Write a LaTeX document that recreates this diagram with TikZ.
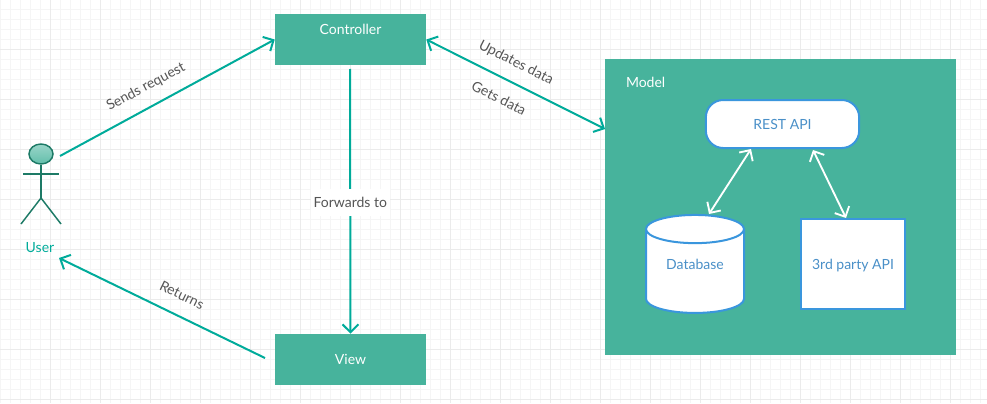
\documentclass[tikz,border=0pt]{standalone}
\usepackage{fontspec}
\setmainfont{Lato}
\usepackage{xcolor}
\usetikzlibrary{shapes.geometric,arrows.meta,positioning}
\definecolor{boxgreen}{RGB}{71,179,156}
\definecolor{arrowteal}{RGB}{0,171,154}
\definecolor{actorgreen}{RGB}{29,122,102}
\definecolor{edgeblue}{RGB}{58,150,221}
\definecolor{textblue}{RGB}{74,144,200}
\definecolor{labelgray}{RGB}{85,85,85}

\begin{document}
\begin{tikzpicture}[
  x=0.75pt, y=-0.75pt,
  font=\fontsize{10.5}{12}\selectfont,
  gridminor/.style={draw=black!4, line width=0.5pt},
  gridmajor/.style={draw=black!8, line width=0.5pt},
  gbox/.style={fill=boxgreen, text=white, minimum width=113.25pt, minimum height=38.25pt, inner sep=0pt},
  wbox/.style={draw=edgeblue, fill=white, text=textblue, line width=1.5pt, inner sep=0pt, align=center},
  arr/.style={-{Straight Barb[length=6pt,width=12pt]}, arrowteal, line width=1.5pt},
  darr/.style={{Straight Barb[length=6pt,width=12pt]}-{Straight Barb[length=6pt,width=12pt]}, arrowteal, line width=1.5pt},
  warr/.style={{Straight Barb[length=6pt,width=12pt]}-{Straight Barb[length=6pt,width=12pt]}, white, line width=1.4pt},
  lbl/.style={text=labelgray, inner sep=1pt},
  limb/.style={draw=actorgreen, line width=1.1pt},
]
% Background grid
\useasboundingbox (0,0) rectangle (987,403);
\foreach \gx in {0,10,...,980} {\draw[gridminor] (\gx,0) -- (\gx,403);}
\foreach \gy in {10,20,...,400} {\draw[gridminor] (0,\gy-0.5) -- (987,\gy-0.5);}
\foreach \gx in {50,100,...,950} {\draw[gridmajor] (\gx,0) -- (\gx,403);}
\foreach \gy in {50,100,...,400} {\draw[gridmajor] (0,\gy-0.5) -- (987,\gy-0.5);}

% Controller and view
\node[gbox, text height=7pt, text depth=14pt] (controller) at (350.5,39.5) {Controller};
\node[gbox] (view) at (350.5,359.5) {View};

% Model
\node[fill=boxgreen, minimum width=263.25pt, minimum height=222pt, inner sep=0pt] (model) at (780.5,207) {};
\node[text=white, right=0pt of model.north west, anchor=west, yshift=-17.75pt, xshift=15.75pt, inner sep=0pt] (modeltitle) {Model};
\node[wbox, rounded corners=13pt, minimum width=115pt, minimum height=36pt] (rest) at (782.5,124) {REST API};
\node[wbox, cylinder, shape border rotate=90, aspect=0.49, minimum width=73.5pt, minimum height=73.5pt, text height=7pt, text depth=10.7pt] (database) at (695,271.5) {Database};
\node[wbox, minimum width=78.5pt, minimum height=67.5pt, text height=7.5pt, text depth=0pt] (thirdparty) at (853,264) {3rd party API};

% User
\node[limb, ellipse, top color=boxgreen!55, bottom color=boxgreen!85, minimum width=18pt, minimum height=15pt, inner sep=0pt] (head) at (41,154) {};
\coordinate (hip) at (41,198);
\draw[limb] (head.south) -- (hip);
\coordinate (armleft) at (23,174);
\coordinate (armright) at (59,174);
\coordinate (footleft) at (21,224);
\coordinate (footright) at (61,224);
\draw[limb] (armleft) -- (armright);
\draw[limb] (footleft) -- (hip) -- (footright);
\node[text=arrowteal, inner sep=0pt] (user) at (40,248) {User};

% Free ends
\coordinate (sendsfrom) at (60,156);
\coordinate (retfrom) at (265,358);
\coordinate (retto) at (59,258);
\coordinate (fwdfrom) at (350,69);
\coordinate (modelin) at (605,129);
\coordinate (restleft) at (751,149);
\coordinate (dbtop) at (709,214);
\coordinate (restright) at (813,150);
\coordinate (thirdtop) at (846,218);

\draw[arr] (sendsfrom) -- (controller.west);
\draw[darr] (controller.east) -- (modelin);
\draw[arr] (fwdfrom) -- (view.north) node[pos=0.505, fill=white, text=labelgray, inner sep=2pt, minimum height=20pt] (forwards) {Forwards to};
\draw[arr] (retfrom) -- (retto);
\draw[warr] (restleft) -- (dbtop);
\draw[warr] (restright) -- (thirdtop);

% Connector labels
\node[lbl, rotate=28] (sends) at (146,87) {Sends request};
\node[lbl, rotate=-27] (updates) at (516,63) {Updates data};
\node[lbl, rotate=-27] (gets) at (499,98) {Gets data};
\node[lbl, rotate=-26] (returns) at (182,295) {Returns};
\end{tikzpicture}
\end{document}
